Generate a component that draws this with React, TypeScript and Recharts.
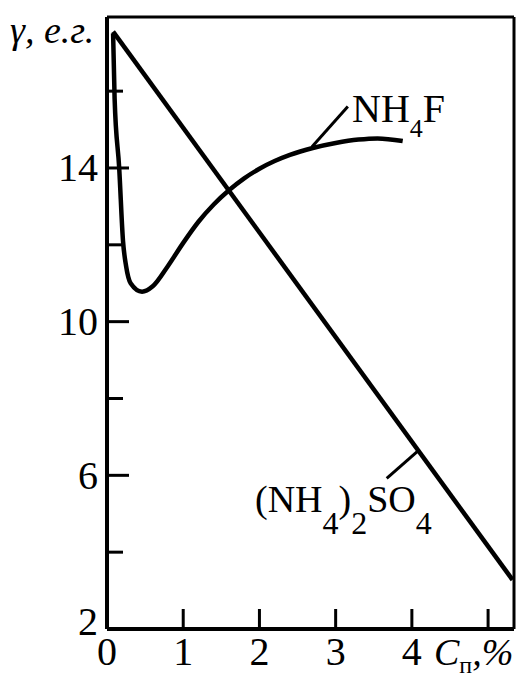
import React from "react";
import { LineChart, Line, XAxis, YAxis, ReferenceLine } from "recharts";

// γ vs concentration; x in %, y in e.г.
const NH4F_X = [0.08, 0.1, 0.16, 0.21, 0.25, 0.31, 0.46, 0.6, 0.8, 1.0, 1.2, 1.4, 1.6, 1.8, 2.0, 2.2, 2.4, 2.7, 3.0, 3.3, 3.55, 3.88];
const NH4F_Y = [17.5, 15.8, 14.0, 12.1, 11.45, 11.0, 10.78, 10.92, 11.45, 12.05, 12.6, 13.05, 13.42, 13.73, 13.98, 14.18, 14.34, 14.52, 14.65, 14.74, 14.77, 14.7];

const SULFATE_X = [0.08, 5.32];
const SULFATE_Y = [17.55, 3.28];

const X_TICKS = [0, 1, 2, 3, 4, 5];
const X_LABELS = ["0", "1", "2", "3", "4", ""];
const Y_TICKS = [2, 4, 6, 8, 10, 12, 14, 16];
const Y_LABELS = ["2", "", "6", "", "10", "", "14", ""];

const X_MAX = 5.34;
const Y_MIN = 2;
const Y_MAX = 17.93;

const FONT = "'Liberation Serif', 'Times New Roman', serif";

const toPoints = (xs: number[], ys: number[]) => xs.map((x, i) => ({ x, y: ys[i] }));
const nh4f = toPoints(NH4F_X, NH4F_Y);
const sulfate = toPoints(SULFATE_X, SULFATE_Y);

const XTick = (props: any) => {
  const { x, y, payload } = props;
  const i = X_TICKS.indexOf(payload.value);
  return (
    <g>
      {payload.value !== 0 && <line x1={x} x2={x} y1={y} y2={y - 20} stroke="#000" strokeWidth={3} />}
      <text x={x} y={y + 36} textAnchor="middle" fontSize={40} fontFamily={FONT} fill="#000">
        {X_LABELS[i]}
      </text>
    </g>
  );
};

const YTick = (props: any) => {
  const { x, y, payload } = props;
  const i = Y_TICKS.indexOf(payload.value);
  const label = Y_LABELS[i];
  const len = label ? 22 : 16;
  return (
    <g>
      {payload.value !== Y_MIN && <line x1={x} x2={x + len} y1={y} y2={y} stroke="#000" strokeWidth={3} />}
      <text
        x={x - 9}
        y={payload.value === Y_MIN ? y - 8 : y}
        textAnchor="end"
        dominantBaseline="central"
        fontSize={40}
        fontFamily={FONT}
        fill="#000"
      >
        {label}
      </text>
    </g>
  );
};

export default function App() {
  return (
    <div style={{ position: "absolute", left: 0, top: 0, width: 519, height: 679, background: "#fff" }}>
      <LineChart width={519} height={679} margin={{ top: 17, right: 5, left: 47, bottom: 20 }}>
        <XAxis
          type="number"
          dataKey="x"
          domain={[0, X_MAX]}
          ticks={X_TICKS}
          interval={0}
          allowDataOverflow
          height={30}
          tickSize={0}
          tickMargin={0}
          tickLine={false}
          axisLine={{ stroke: "#000", strokeWidth: 4 }}
          tick={<XTick />}
        />
        <YAxis
          type="number"
          dataKey="y"
          domain={[Y_MIN, Y_MAX]}
          ticks={Y_TICKS}
          interval={0}
          allowDataOverflow
          width={60}
          tickSize={0}
          tickMargin={0}
          tickLine={false}
          axisLine={{ stroke: "#000", strokeWidth: 4 }}
          tick={<YTick />}
        />
        {/* frame */}
        <ReferenceLine y={Y_MAX} stroke="#000" strokeWidth={3} />
        <ReferenceLine x={X_MAX} stroke="#000" strokeWidth={3} />
        {/* leader lines to the curve labels */}
        <ReferenceLine segment={[{ x: 2.69, y: 14.55 }, { x: 3.16, y: 15.6 }]} stroke="#000" strokeWidth={3} ifOverflow="visible" />
        <ReferenceLine segment={[{ x: 3.67, y: 5.92 }, { x: 4.07, y: 6.62 }]} stroke="#000" strokeWidth={3} ifOverflow="visible" />
        <Line
          data={sulfate}
          dataKey="y"
          type="linear"
          stroke="#000"
          strokeWidth={4.5}
          dot={false}
          activeDot={false}
          isAnimationActive={false}
        />
        <Line
          data={nh4f}
          dataKey="y"
          type="monotone"
          stroke="#000"
          strokeWidth={4.5}
          dot={false}
          activeDot={false}
          isAnimationActive={false}
        />
      </LineChart>
      <svg
        width={519}
        height={679}
        style={{ position: "absolute", left: 0, top: 0, pointerEvents: "none" }}
        fontFamily={FONT}
        fill="#000"
      >
        <text x={10} y={43} fontSize={38} fontStyle="italic">
          γ, е.г.
        </text>
        <text x={352} y={122} fontSize={40}>
          NH
          <tspan fontSize={26} dy={15}>4</tspan>
          <tspan dy={-15}>F</tspan>
        </text>
        <text x={255} y={512} fontSize={38}>
          (NH
          <tspan fontSize={32} dy={22}>4</tspan>
          <tspan dy={-22}>)</tspan>
          <tspan fontSize={32} dy={22}>2</tspan>
          <tspan dy={-22}>SO</tspan>
          <tspan fontSize={32} dy={22}>4</tspan>
        </text>
        <text x={434} y={665} fontSize={38} fontStyle="italic">
          C
          <tspan fontSize={24} fontStyle="normal" dy={8}>п</tspan>
          <tspan dy={-8}>,%</tspan>
        </text>
      </svg>
    </div>
  );
}
